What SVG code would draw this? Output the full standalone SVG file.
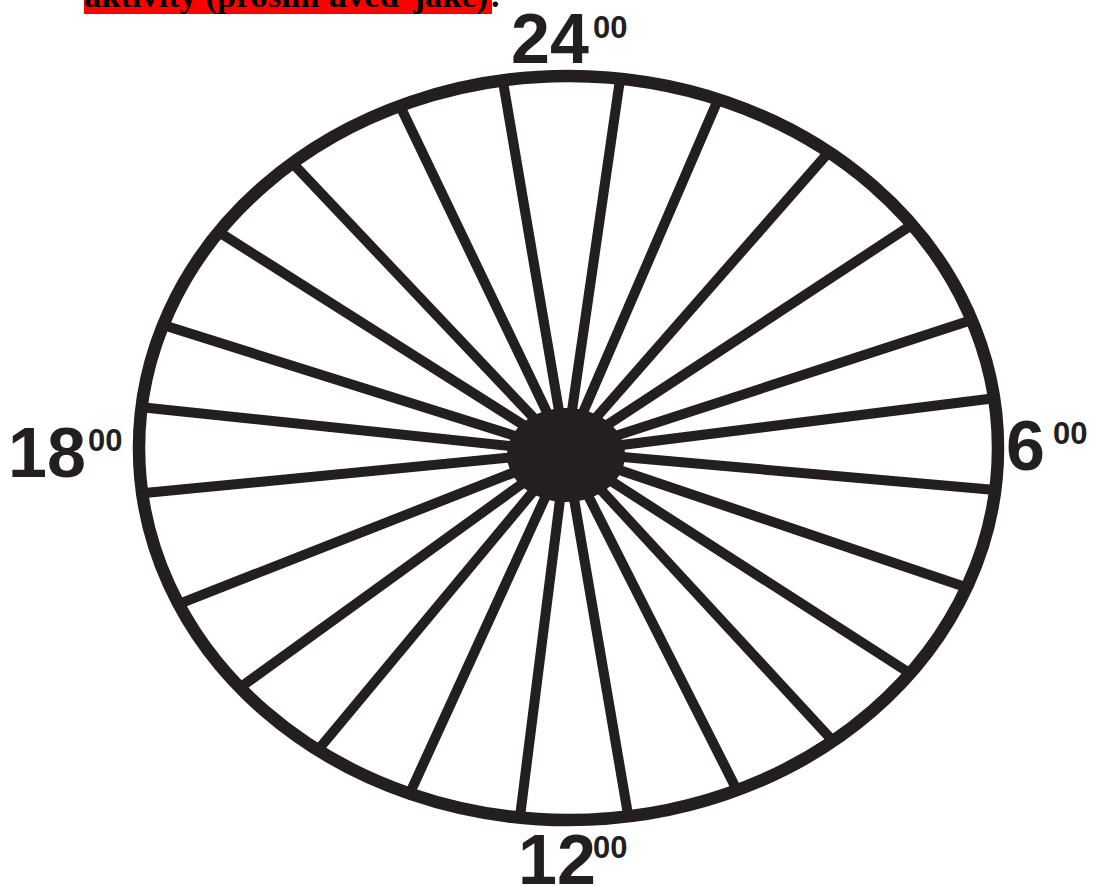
<svg xmlns="http://www.w3.org/2000/svg" width="1093" height="886" viewBox="0 0 1093 886">
<style>
.ink{fill:none;stroke:#231f20;stroke-linecap:round}
.rim{stroke-width:12.5}
.spk{stroke-width:10}
.big{font-family:"Liberation Sans",Arial,sans-serif;font-weight:bold;font-size:70px;fill:#231f20}
.sup{font-family:"Liberation Sans",Arial,sans-serif;font-weight:bold;font-size:31px;fill:#231f20}
.hdr{font-family:"Liberation Serif","Times New Roman",serif;font-weight:bold;font-size:34px;fill:#000}
</style>
<rect width="1093" height="886" fill="#fff"/>
<g id="header">
<rect x="84" y="-20" width="408" height="34" fill="#ff0000"/>
<text class="hdr" x="84" y="7" textLength="404" lengthAdjust="spacingAndGlyphs">aktivity (prosím uveď jaké)</text>
<text class="hdr" x="491" y="7">.</text>
</g>
<g id="connectors" class="ink spk">
<line x1="566" y1="452" x2="620.1" y2="78.7"/>
<line x1="566" y1="452" x2="718.2" y2="99.3"/>
<line x1="566" y1="452" x2="828.8" y2="152.1"/>
<line x1="566" y1="452" x2="912.0" y2="224.7"/>
<line x1="566" y1="452" x2="971.8" y2="320.1"/>
<line x1="566" y1="452" x2="994.1" y2="398.2"/>
<line x1="566" y1="452" x2="995.2" y2="490.1"/>
<line x1="566" y1="452" x2="966.7" y2="587.4"/>
<line x1="566" y1="452" x2="910.0" y2="673.4"/>
<line x1="566" y1="452" x2="833.0" y2="741.1"/>
<line x1="566" y1="452" x2="737.0" y2="790.2"/>
<line x1="566" y1="452" x2="628.3" y2="816.4"/>
<line x1="566" y1="452" x2="519.9" y2="817.6"/>
<line x1="566" y1="452" x2="409.7" y2="793.6"/>
<line x1="566" y1="452" x2="317.9" y2="750.1"/>
<line x1="566" y1="452" x2="240.0" y2="687.6"/>
<line x1="566" y1="452" x2="178.6" y2="604.1"/>
<line x1="566" y1="452" x2="142.2" y2="493.3"/>
<line x1="566" y1="452" x2="141.6" y2="407.2"/>
<line x1="566" y1="452" x2="163.1" y2="325.1"/>
<line x1="566" y1="452" x2="218.8" y2="232.0"/>
<line x1="566" y1="452" x2="292.4" y2="163.0"/>
<line x1="566" y1="452" x2="400.0" y2="105.8"/>
<line x1="566" y1="452" x2="502.8" y2="80.4"/>
</g>
<g id="rim">
<ellipse class="ink rim" cx="568.5" cy="448" rx="429.5" ry="372"/>
</g>
<g id="hub">
<ellipse cx="566" cy="455" rx="59" ry="47" fill="#231f20"/>
</g>
<g id="label-24"><text class="big" x="511" y="63">24</text><text class="sup" x="593" y="38">00</text></g>
<g id="label-6"><text class="big" x="1006" y="470">6</text><text class="sup" x="1053" y="444">00</text></g>
<g id="label-12"><text class="big" x="518" y="884">12</text><text class="sup" x="593" y="858">00</text></g>
<g id="label-18"><text class="big" x="8" y="477">18</text><text class="sup" x="88" y="451">00</text></g>
</svg>
